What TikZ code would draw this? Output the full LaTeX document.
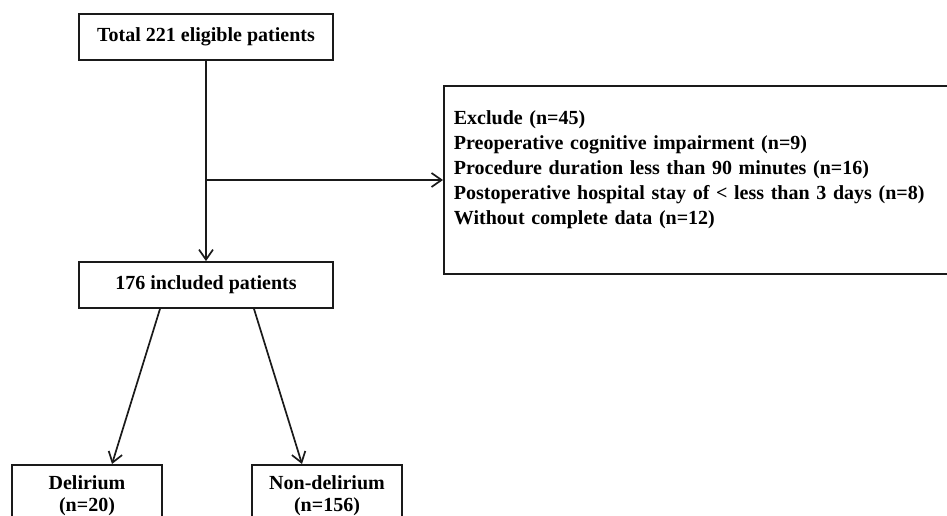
\documentclass[tikz,border=0pt]{standalone}
\usepackage{fontspec}
\setmainfont{Liberation Serif}
\usetikzlibrary{arrows.meta}
\definecolor{ink}{HTML}{1A1A1A}
\tikzset{
  countbox/.style={
    draw=ink,
    line width=1.8pt,
    minimum width=254pt,
    minimum height=46pt,
    inner sep=0pt,
    font=\bfseries\fontsize{20}{25}\selectfont
  },
  groupbox/.style={
    draw=ink,
    line width=1.8pt,
    minimum width=150pt,
    inner xsep=0pt,
    inner ysep=11pt,
    align=center,
    font=\bfseries\fontsize{20}{22}\selectfont
  },
  exclbox/.style={
    draw=ink,
    line width=1.8pt,
    text width=500pt,
    inner xsep=10pt,
    minimum height=188pt,
    align=left,
    font=\bfseries\fontsize{20}{25}\selectfont
  },
  flowarrow/.style={-{Straight Barb[length=10pt,width=14pt]},line width=1.7pt,draw=ink}
}

\begin{document}
\begin{tikzpicture}[x=1pt,y=-1pt]
\useasboundingbox (0,0) rectangle (947,516);
\clip (0,0) rectangle (947,516);
\node[countbox] (total) at (206,37) {Total 221 eligible patients};
\node[countbox] (included) at (206,285) {176 included patients};
\node[exclbox,anchor=west] (excl) at (443,180) {Exclude (n=45)\\Preoperative cognitive impairment (n=9)\\Procedure duration less than 90 minutes (n=16)\\Postoperative hospital stay of < less than 3 days (n=8)\\Without complete data (n=12)\\\mbox{}};
\node[groupbox,anchor=north] (delir) at (87,464) {Delirium\\(n=20)};
\node[groupbox,anchor=north] (nondelir) at (327,464) {Non-delirium\\(n=156)};
\coordinate (split) at (total.south |- excl.west);
\draw[flowarrow] (total) -- (included);
\draw[flowarrow] (split) -- (excl);
\draw[flowarrow] ([xshift=-46pt]included.south) -- ([xshift=25pt]delir.north);
\draw[flowarrow] ([xshift=48pt]included.south) -- ([xshift=-25pt]nondelir.north);
\end{tikzpicture}
\end{document}
